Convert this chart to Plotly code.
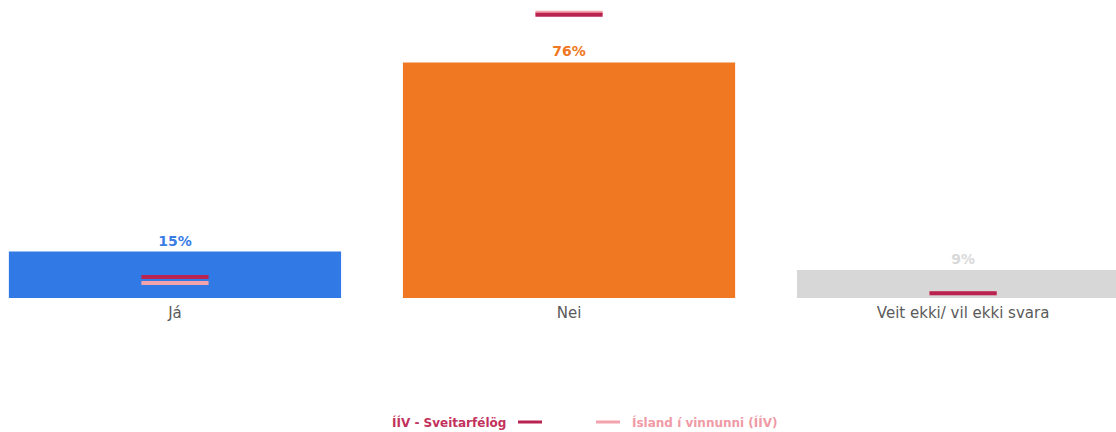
import plotly.graph_objects as go

categories = ["Já", "Nei", "Veit ekki/ vil ekki svara"]
answer_pct = [15, 76, 9]
sveitarfelog_pct = [6.8, 91.4, 1.5]
iiv_pct = [4.8, 92.0, 1.5]

bar_colors = ["#3179e4", "#f07822", "#d7d7d7"]
label_colors = ["#3a7ee6", "#f07822", "#d9d9d9"]
dark = "#b82350"
light = "#f2a3ab"

FONT = "DejaVu Sans"
W, H = 1116, 432
BASE = 298  # pixel row of the bar baseline

fig = go.Figure()

fig.add_trace(go.Bar(
    x=categories,
    y=answer_pct,
    marker=dict(color=bar_colors, line=dict(width=0)),
    text=[f"{v}%" for v in answer_pct],
    textposition="outside",
    textfont=dict(family=FONT, size=14, color=label_colors, weight="bold"),
    cliponaxis=False,
    showlegend=False,
    hoverinfo="skip",
))

fig.add_trace(go.Scatter(
    x=categories,
    y=iiv_pct,
    mode="markers",
    marker=dict(symbol="line-ew", size=48, line=dict(width=4, color=light)),
    showlegend=False,
    cliponaxis=False,
))

fig.add_trace(go.Scatter(
    x=categories,
    y=sveitarfelog_pct,
    mode="markers",
    marker=dict(symbol="line-ew", size=48, line=dict(width=4, color=dark)),
    showlegend=False,
    cliponaxis=False,
))

# legend drawn by hand: first label sits left of its swatch, second right of it
legend_y = (BASE - 422) / BASE
fig.add_annotation(x=508 / W, y=legend_y, xref="paper", yref="paper",
                   xanchor="right", yanchor="middle", showarrow=False,
                   text="<b>ÍÍV - Sveitarfélög</b>",
                   font=dict(family=FONT, size=12, color="#c2315c"))
fig.add_annotation(x=630 / W, y=legend_y, xref="paper", yref="paper",
                   xanchor="left", yanchor="middle", showarrow=False,
                   text="<b>Ísland í vinnunni (ÍÍV)</b>",
                   font=dict(family=FONT, size=12, color="#f09aa6"))
fig.add_shape(type="line", xref="paper", yref="paper",
              x0=518 / W, x1=542 / W, y0=legend_y, y1=legend_y,
              line=dict(color=dark, width=3))
fig.add_shape(type="line", xref="paper", yref="paper",
              x0=596 / W, x1=620 / W, y0=legend_y, y1=legend_y,
              line=dict(color=light, width=3))

fig.update_layout(
    width=W,
    height=H,
    margin=dict(l=0, r=0, t=0, b=H - BASE),
    paper_bgcolor="white",
    plot_bgcolor="white",
    bargap=0.157,
    showlegend=False,
    font=dict(family=FONT, size=14, color="#555555"),
    xaxis=dict(range=[-0.444, 2.388], showgrid=False, zeroline=False,
               showline=False, ticks="", ticklabelstandoff=4,
               tickfont=dict(family=FONT, size=15, color="#5a5a5a")),
    yaxis=dict(range=[0, BASE / 3.1], visible=False),
)

fig.write_html("out.html", config={"displayModeBar": False},
               post_script="document.body.style.margin='0';")
